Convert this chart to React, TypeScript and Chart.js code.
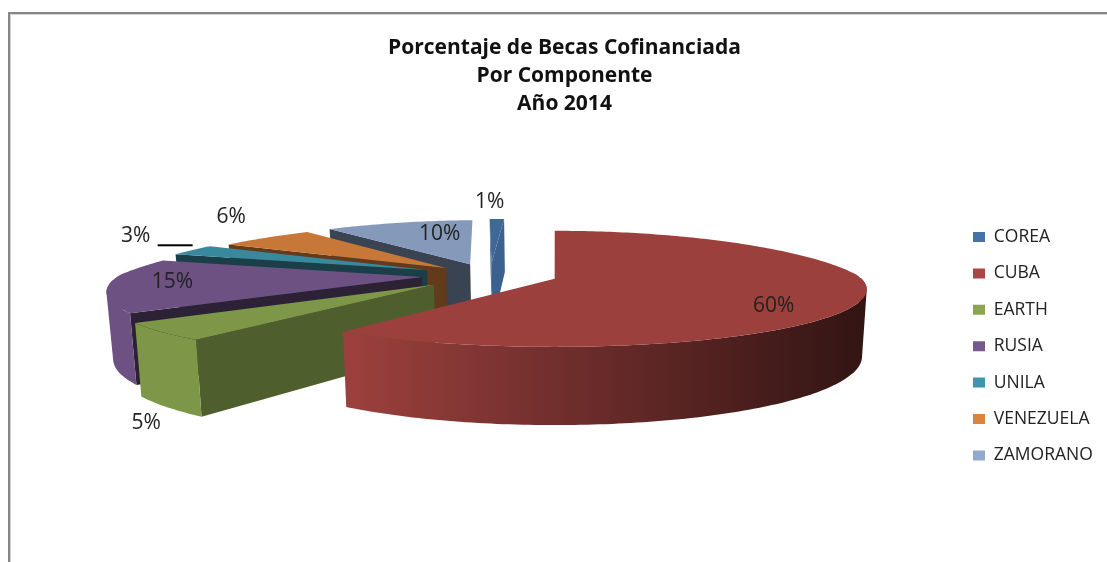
import React, { useEffect, useRef } from "react";
import { Chart, registerables } from "chart.js";

Chart.register(...registerables);

const categories = ["COREA", "CUBA", "EARTH", "RUSIA", "UNILA", "VENEZUELA", "ZAMORANO"];
const percentages = [1, 60, 5, 15, 3, 6, 10];
const legendColors = ["#4572A7", "#AA4643", "#89A54E", "#77598F", "#3D96AE", "#DB843D", "#92A8CD"];
const explode = [70, 68, 74, 68, 72, 62, 66];
const radialShade = [0.85, 0.4, 0.57, 0.37, 0.42, 0.45, 0.4];
const titleLines = ["Porcentaje de Becas Cofinanciada", "Por Componente", "Año 2014"];

// back-to-front painting order of the 3D slices
const paintOrder = [0, 6, 5, 4, 3, 2, 1];
// label placement: radial factor along the slice's mid-angle plus small nudges
const labelPlacement = [
  { r: 1.2, dx: -8, dy: -10 },
  { r: 0.72, dx: 0, dy: 14 },
  { r: 1.05, dx: 1, dy: 88 },
  { r: 0.75, dx: -16, dy: -2 },
  { r: 1.15, dx: -25, dy: -11 },
  { r: 1.1, dx: -20, dy: -18 },
  { r: 0.6, dx: 15, dy: -4 },
];

// projection of the flat pie into the tilted 3D view
const view = { cx: 490, cy: 275, vx: 555, rx: 303, ry: 55, kxBack: 0.26, kxFront: 0.18, ky: 0.17, depth: 64, shrink: 0.985 };

type Pt = { x: number; y: number };

function project(X: number, Y: number) {
  const sx = 1 / (1 - (Y < 0 ? view.kxBack : view.kxFront) * Y);
  const sy = 1 / (1 - view.ky * Y);
  return {
    x: view.vx + (view.cx + X * view.rx - view.vx) * sx,
    y: view.cy + Y * view.ry * sy,
    d: view.depth * sy,
  };
}
function lower(p: { x: number; y: number; d: number }) {
  return { x: view.vx + (p.x - view.vx) * view.shrink, y: p.y + p.d };
}
function hexRgb(h: string) {
  return [1, 3, 5].map((i) => parseInt(h.slice(i, i + 2), 16));
}
function shade(h: string, f: number) {
  const [r, g, b] = hexRgb(h);
  return `rgb(${Math.round(r * f)},${Math.round(g * f)},${Math.round(b * f)})`;
}
function addPoly(ctx: CanvasRenderingContext2D, pts: Pt[]) {
  pts.forEach((p, i) => (i ? ctx.lineTo(p.x, p.y) : ctx.moveTo(p.x, p.y)));
  ctx.closePath();
}
function poly(ctx: CanvasRenderingContext2D, pts: Pt[], color: any) {
  ctx.beginPath();
  addPoly(ctx, pts);
  ctx.fillStyle = color;
  ctx.fill();
}
function signedArea(pts: Pt[]) {
  let s = 0;
  pts.forEach((p, i) => {
    const q = pts[(i + 1) % pts.length];
    s += p.x * q.y - q.x * p.y;
  });
  return s;
}

const pie3d = {
  id: "pie3d",
  beforeDraw(chart: any) {
    const ctx = chart.ctx as CanvasRenderingContext2D;
    ctx.save();
    ctx.fillStyle = "#868686";
    ctx.fillRect(8, 12, 2, chart.height - 12);
    ctx.fillRect(8, 12, chart.width - 8, 2);
    ctx.fillStyle = "#d4d4d4";
    ctx.fillRect(10, 14, 1, chart.height - 14);
    ctx.fillRect(10, 14, chart.width - 10, 1);
    ctx.restore();
  },
  afterLayout(chart: any) {
    const lg = chart.legend;
    const pad = lg.options.labels.padding;
    lg.left = 973 - pad;
    lg.right = lg.left + lg.width;
    lg.top = 237 - 8.75 - pad;
    lg.bottom = lg.top + pad + lg.columnSizes[0].height;
    const t = chart.titleBlock;
    t.left += 11;
    t.right += 11;
  },
  beforeDatasetsDraw(chart: any) {
    const ctx = chart.ctx as CanvasRenderingContext2D;
    const meta = chart.getDatasetMeta(0);
    const base = chart.data.datasets[0].backgroundColor as string[];
    ctx.save();
    paintOrder.forEach((i) => {
      const arc = meta.data[i];
      const a0 = arc.startAngle;
      const a1 = arc.endAngle;
      const mid = (a0 + a1) / 2;
      const off = arc.options.offset / view.rx;
      const ox = Math.cos(mid) * off;
      const oy = Math.sin(mid) * off;
      const n = Math.max(2, Math.ceil(((a1 - a0) * 180) / Math.PI));
      const rim = [];
      const angles = [];
      for (let k = 0; k <= n; k++) {
        const a = a0 + ((a1 - a0) * k) / n;
        angles.push(a);
        rim.push(project(ox + Math.cos(a), oy + Math.sin(a)));
      }
      const apex = project(ox, oy);
      const dark = shade(base[i], radialShade[i]);
      const thin = a1 - a0 < 0.1;
      // cut faces: only those turned towards the viewer (a very thin slice shows both)
      if (thin || -Math.cos(a0) > 0) poly(ctx, [apex, rim[0], lower(rim[0]), lower(apex)], dark);
      if (thin || Math.cos(a1) > 0) poly(ctx, [apex, rim[n], lower(rim[n]), lower(apex)], dark);
      // outer wall: same-orientation quads in one path, so no seams and no cancelled overlaps
      const grad = ctx.createLinearGradient(350, 0, 860, 0);
      grad.addColorStop(0, shade(base[i], 0.91));
      grad.addColorStop(1, shade(base[i], 0.91 * 0.33));
      ctx.beginPath();
      let any = false;
      for (let k = 0; k < n; k++) {
        if (Math.sin((angles[k] + angles[k + 1]) / 2) <= -0.02) continue;
        const quad: Pt[] = [rim[k], rim[k + 1], lower(rim[k + 1]), lower(rim[k])];
        addPoly(ctx, signedArea(quad) < 0 ? quad.reverse() : quad);
        any = true;
      }
      if (any) {
        ctx.fillStyle = grad;
        ctx.fill();
      }
      poly(ctx, [apex, ...rim], shade(base[i], 0.91));
    });
    ctx.restore();
    return false;
  },
  afterDraw(chart: any) {
    const ctx = chart.ctx as CanvasRenderingContext2D;
    const meta = chart.getDatasetMeta(0);
    const values = chart.data.datasets[0].data as number[];
    const total = values.reduce((s, v) => s + v, 0);
    ctx.save();
    ctx.font = "21px 'Open Sans'";
    ctx.fillStyle = "#222222";
    ctx.textAlign = "center";
    ctx.textBaseline = "middle";
    meta.data.forEach((arc: any, i: number) => {
      const mid = (arc.startAngle + arc.endAngle) / 2;
      const off = arc.options.offset / view.rx;
      const pl = labelPlacement[i];
      const p = project(Math.cos(mid) * (off + pl.r), Math.sin(mid) * (off + pl.r));
      const x = p.x + pl.dx;
      const y = p.y + pl.dy;
      ctx.fillText(`${Math.round((values[i] / total) * 100)}%`, x, y);
      if (categories[i] === "UNILA") {
        ctx.fillStyle = "#000000";
        ctx.fillRect(x + 22, y + 8, 35, 2);
        ctx.fillStyle = "#222222";
      }
    });
    ctx.restore();
  },
};

export default function App() {
  const ref = useRef<HTMLCanvasElement>(null);
  useEffect(() => {
    document.body.style.margin = "0";
    const chart = new Chart(ref.current!, {
      type: "pie",
      data: {
        labels: categories,
        datasets: [
          {
            data: percentages,
            backgroundColor: legendColors,
            borderWidth: 0,
            offset: explode,
          },
        ],
      },
      options: {
        responsive: false,
        animation: false,
        rotation: -3.6,
        plugins: {
          tooltip: { enabled: false },
          title: {
            display: true,
            text: titleLines,
            color: "#111111",
            font: { family: "'Open Sans'", size: 21, weight: "bold", lineHeight: 1.333 },
            padding: { top: 34.5, bottom: 0 },
          },
          legend: {
            position: "right",
            labels: {
              boxWidth: 12,
              boxHeight: 10,
              padding: 18.9,
              color: "#222222",
              font: { family: "'Open Sans'", size: 17.5 },
            },
          },
        },
      },
      plugins: [pie3d],
    } as any);
    return () => chart.destroy();
  }, []);
  return <canvas ref={ref} width={1107} height={562} style={{ display: "block" }} />;
}
